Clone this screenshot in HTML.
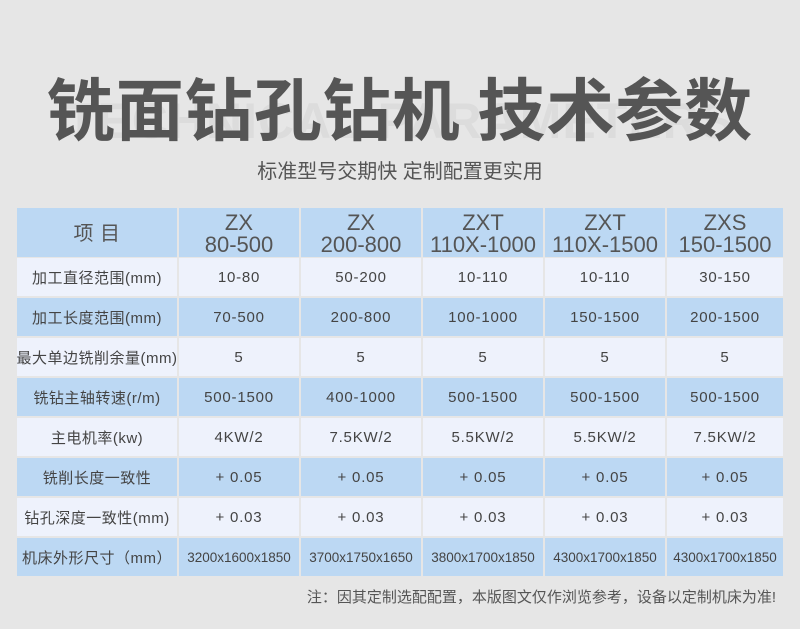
<!DOCTYPE html>
<html><head><meta charset="utf-8"><style>
body{margin:0;width:800px;height:629px;background:#e6e6e6;position:relative;overflow:hidden;font-family:"Liberation Sans","Noto Sans CJK SC",sans-serif;color:#444}
.t{position:absolute;left:0;width:800px;text-align:center}
.r{position:absolute;left:0;width:800px;height:38px}
.r div{position:absolute;top:0;height:100%;display:flex;align-items:center;justify-content:center;text-align:center;font-size:15px;white-space:nowrap;letter-spacing:0.8px}
.r div:nth-child(1){left:17px;width:160px;letter-spacing:0.5px}
.r div:nth-child(2){left:179px;width:120px}
.r div:nth-child(3){left:301px;width:120px}
.r div:nth-child(4){left:423px;width:120px}
.r div:nth-child(5){left:545px;width:120px}
.r div:nth-child(6){left:667px;width:116px}
.b div{background:#bcd8f3}
.l div{background:#eef2fc}
.h{height:49px}
.h div{font-size:22px;line-height:22px;color:#555;padding-top:3px;box-sizing:border-box;letter-spacing:0}
.h div:nth-child(1){font-size:20px}
.s div{font-size:13.5px;letter-spacing:0}
.s div:nth-child(1){font-size:15px}
.wm{position:absolute;left:0;width:800px;top:92px;text-align:center;font-size:50px;font-weight:bold;color:#dcdcdc;letter-spacing:1px}
</style></head><body>
<div class="wm">TECHNICAL PARAMETERS</div>
<div class="t" style="top:66px;font-size:68px;font-weight:bold;color:#555;font-family:'Noto Sans CJK SC',sans-serif;line-height:80px;letter-spacing:1px">铣面钻孔钻机 技术参数</div>
<div class="t" style="top:158px;font-size:20px;color:#555;line-height:28px">标准型号交期快 定制配置更实用</div>

<div class="r b h" style="top:208px"><div>项 目</div><div>ZX<br>80-500</div><div>ZX<br>200-800</div><div>ZXT<br>110X-1000</div><div>ZXT<br>110X-1500</div><div>ZXS<br>150-1500</div></div>
<div class="r l" style="top:258px"><div>加工直径范围(mm)</div><div>10-80</div><div>50-200</div><div>10-110</div><div>10-110</div><div>30-150</div></div>
<div class="r b" style="top:298px"><div>加工长度范围(mm)</div><div>70-500</div><div>200-800</div><div>100-1000</div><div>150-1500</div><div>200-1500</div></div>
<div class="r l" style="top:338px"><div>最大单边铣削余量(mm)</div><div>5</div><div>5</div><div>5</div><div>5</div><div>5</div></div>
<div class="r b" style="top:378px"><div>铣钻主轴转速(r/m)</div><div>500-1500</div><div>400-1000</div><div>500-1500</div><div>500-1500</div><div>500-1500</div></div>
<div class="r l" style="top:418px"><div>主电机率(kw)</div><div>4KW/2</div><div>7.5KW/2</div><div>5.5KW/2</div><div>5.5KW/2</div><div>7.5KW/2</div></div>
<div class="r b" style="top:458px"><div>铣削长度一致性</div><div>+ 0.05</div><div>+ 0.05</div><div>+ 0.05</div><div>+ 0.05</div><div>+ 0.05</div></div>
<div class="r l" style="top:498px"><div>钻孔深度一致性(mm)</div><div>+ 0.03</div><div>+ 0.03</div><div>+ 0.03</div><div>+ 0.03</div><div>+ 0.03</div></div>
<div class="r b s" style="top:538px"><div>机床外形尺寸（mm）</div><div>3200x1600x1850</div><div>3700x1750x1650</div><div>3800x1700x1850</div><div>4300x1700x1850</div><div>4300x1700x1850</div></div>

<div style="position:absolute;right:24px;top:586px;font-size:15px;color:#555">注：因其定制选配配置，本版图文仅作浏览参考，设备以定制机床为准!</div>
</body></html>
